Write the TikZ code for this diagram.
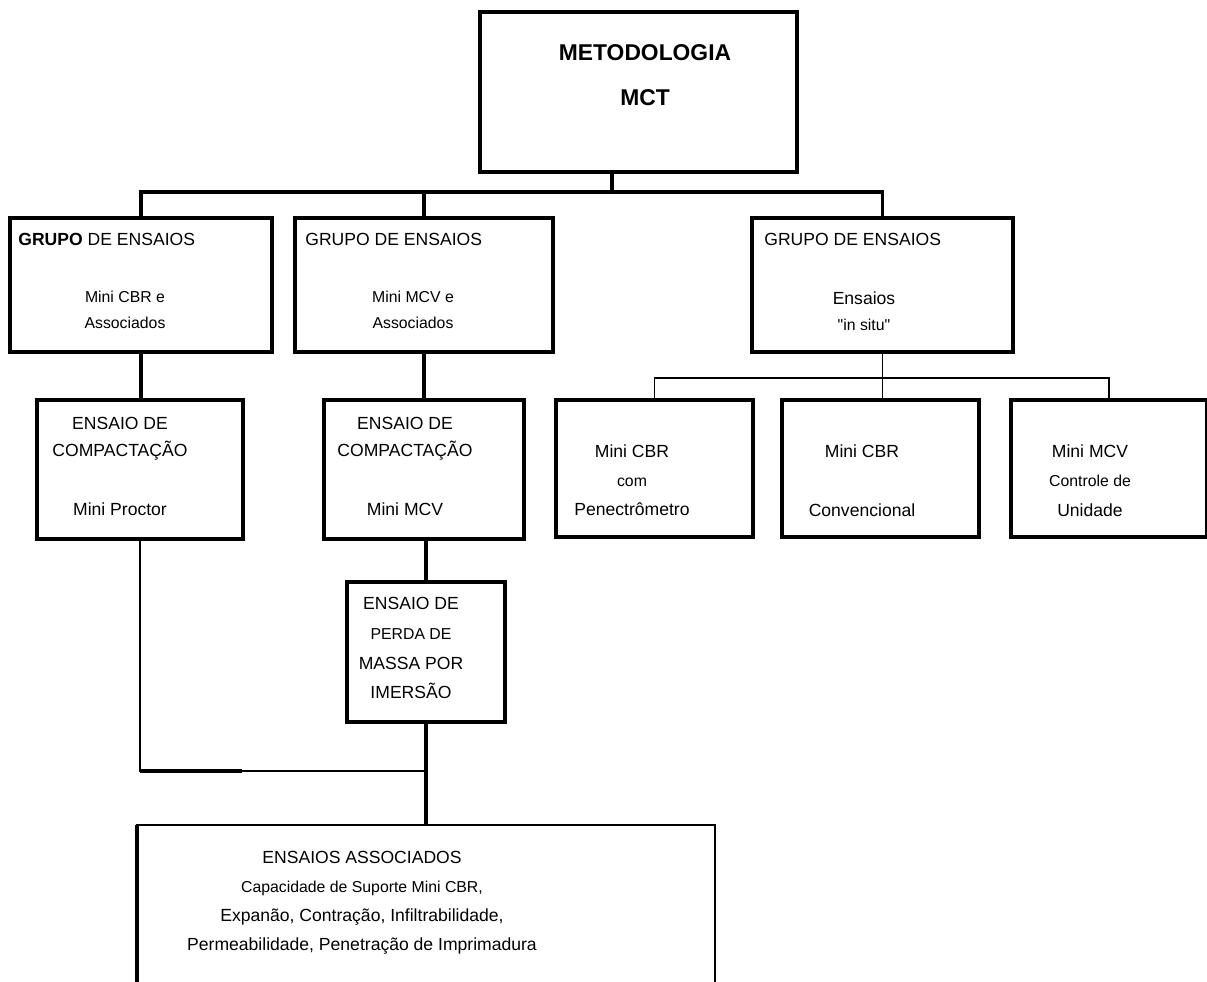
\documentclass[tikz,border=0pt]{standalone}
\usepackage{fontspec}
\setmainfont{Liberation Sans}[Ligatures=TeXOff]
\usetikzlibrary{positioning}
\tikzset{caixa/.style={draw, line width=2pt, inner sep=0pt, outer sep=0pt}}
\tikzset{linha/.style={line width=2pt}}
\tikzset{fina/.style={line width=1.1pt}}
\tikzset{texto/.style={align=center, inner sep=0pt, anchor=north, font=\fontsize{10}{15.4}\selectfont}}
\tikzset{cabeca/.style={inner sep=0pt, anchor=west, font=\fontsize{10}{12}\selectfont}}
\newcommand{\menor}{\fontsize{9}{10}\selectfont}

\begin{document}
\begin{tikzpicture}[x=0.02cm, y=-0.02cm]
    \useasboundingbox (0,0) rectangle (1207,981);

    \node[caixa, minimum width=6.34cm, minimum height=3.2cm](mct) at (638.5,92) {};
    \node[caixa, minimum width=5.24cm, minimum height=2.68cm](g1) at (141,285) {};
    \node[caixa, minimum width=5.16cm, minimum height=2.68cm](g2) at (424,285) {};
    \node[caixa, minimum width=5.22cm, minimum height=2.68cm](g3) at (882.5,285) {};
    \node[caixa, minimum width=4.12cm, minimum height=2.78cm](c1) at (140,469.5) {};
    \node[caixa, minimum width=4cm, minimum height=2.78cm](c2) at (424,469.5) {};
    \node[caixa, minimum width=3.16cm, minimum height=2.8cm](perda) at (426,652) {};
    \node[caixa, minimum width=3.94cm, minimum height=2.74cm](s1) at (654.5,468.5) {};
    \node[caixa, minimum width=3.94cm, minimum height=2.74cm, right=0.58cm of s1](s2) {};
    \node[caixa, minimum width=3.92cm, minimum height=2.74cm, right=0.64cm of s2](s3) {};
    \node[caixa, line width=1.1pt, minimum width=11.56cm, minimum height=3.4cm](assoc) at (426,910) {};

    \node[texto, font=\fontsize{13}{26}\bfseries](t-mct) at (645,44) {METODOLOGIA\\MCT};
    \node[cabeca](h1) at (18,239) {\textbf{GRUPO} DE ENSAIOS};
    \node[cabeca](h2) at (305,239) {GRUPO DE ENSAIOS};
    \node[cabeca](h3) at (764,239) {GRUPO DE ENSAIOS};
    \node[texto, font=\fontsize{9}{14.8}\selectfont](t-g1) at (125,291) {Mini CBR e\\{\menor Associados}};
    \node[texto, font=\fontsize{9}{14.8}\selectfont](t-g2) at (413,291) {Mini MCV e\\{\menor Associados}};
    \node[texto, font=\fontsize{10}{14.8}\selectfont](t-g3) at (864,291) {Ensaios\\{\menor "in situ"}};
    \node[texto](t-c1) at (120,417) {ENSAIO DE\\COMPACTAÇÃO\\[18pt]Mini Proctor};
    \node[texto](t-c2) at (405,417) {ENSAIO DE\\COMPACTAÇÃO\\[18pt]Mini MCV};
    \node[texto, font=\fontsize{10}{16.9}\selectfont](t-perda) at (411,597) {ENSAIO DE\\{\menor PERDA DE}\\MASSA POR\\IMERSÃO};
    \node[texto, font=\fontsize{10}{16.5}\selectfont](t-s1) at (632,444) {Mini CBR\\{\menor com}\\Penectrômetro};
    \node[texto, font=\fontsize{10}{33.6}\selectfont](t-s2) at (862,444) {Mini CBR\\Convencional};
    \node[texto, font=\fontsize{10}{16.8}\selectfont](t-s3) at (1090,444) {Mini MCV\\{\menor Controle de}\\Unidade};
    \node[texto, font=\fontsize{10}{16.5}\selectfont](t-assoc) at (362,851) {ENSAIOS ASSOCIADOS\\{\menor Capacidade de Suporte Mini CBR,}\\Expanão, Contração, Infiltrabilidade,\\Permeabilidade, Penetração de Imprimadura};

    \coordinate (bus) at (612,192);
    \coordinate (bus3) at (882.5,378);
    \coordinate (jn) at (426,771);
    \draw[linha] (mct.south -| bus) -- (bus);
    \draw[linha] (g1.north) |- (bus) -| (g3.north);
    \draw[linha] (g2.north) -- (g2.north |- bus);
    \draw[linha] (g1.south) -- (g1.south |- c1.north);
    \draw[linha] (g2.south) -- (c2.north);
    \draw[linha] (perda.north |- c2.south) -- (perda.north);
    \draw[linha] (perda.south) -- (assoc.north);
    \draw[fina] (c1.south) |- (jn);
    \draw[linha] (c1.south |- jn) -- ++(102,0);
    \draw[fina] (g3.south) -- (g3.south |- s2.north);
    \draw[fina] (s1.north) |- (bus3) -| (s3.north);
    \draw[linha] (assoc.north west) -- (assoc.south west);
\end{tikzpicture}
\end{document}
